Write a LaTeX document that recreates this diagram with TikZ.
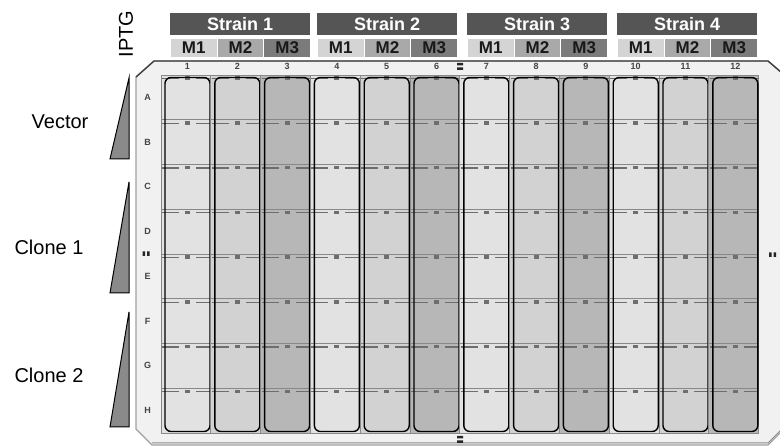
\documentclass[tikz,border=0pt]{standalone}
\usepackage{fontspec}
\setmainfont{Liberation Sans}
\definecolor{hdr}{HTML}{555555}
\definecolor{mone}{HTML}{D4D4D4}
\definecolor{mtwo}{HTML}{A9A9A9}
\definecolor{mthree}{HTML}{7B7B7B}
\definecolor{wellm1}{HTML}{E2E2E2}
\definecolor{wellm2}{HTML}{D2D2D2}
\definecolor{wellm3}{HTML}{B7B7B7}
\definecolor{welledge}{HTML}{888888}
\definecolor{plate}{HTML}{F1F1F1}
\definecolor{plateedge}{HTML}{A0A0A0}
\definecolor{markc}{HTML}{6E6E6E}
\definecolor{labc}{HTML}{444444}
\definecolor{trifill}{HTML}{8A8A8A}
\begin{document}
\begin{tikzpicture}[x=1pt,y=-1pt,
  strainhdr/.style={fill=hdr,text=white,font=\bfseries\fontsize{18}{18}\selectfont,
    minimum width=140pt,minimum height=22pt,inner sep=0pt,anchor=north west},
  mbox/.style={text=black!90,font=\bfseries\fontsize{17}{17}\selectfont,
    minimum width=47pt,minimum height=19pt,inner sep=0pt,anchor=north west,draw=white,line width=0.6pt},
  sidelab/.style={font=\fontsize{20}{20}\selectfont,inner sep=0pt},
  rowlab/.style={font=\bfseries\fontsize{9}{9}\selectfont,text=labc,inner sep=0pt},
  collab/.style={font=\bfseries\fontsize{9}{9}\selectfont,text=labc,inner sep=0pt},
  wedge/.style={fill=trifill,draw=black,line width=1pt,line join=miter},
  tinymark/.style={fill=black!85}
]
\useasboundingbox (0,0) rectangle (780,446);
% plate body
\path[fill=plate,draw=plateedge,line width=1.2pt]
  (136,77) -- (154,61) -- (768,61) -- (782,73) -- (782,431) -- (768,445) -- (152,445) -- (136,429) -- cycle;
\draw[black!75,line width=1.4pt] (136,77) -- (154,61) -- (768,61) -- (782,73);
\draw[black!45,line width=1pt] (152,443) -- (768,443) -- (782,429);
% wells
\foreach \c in {1,...,12}{
  \pgfmathsetmacro\L{165+(\c-1)*49.8}
  \pgfmathtruncatemacro\m{mod(\c-1,3)+1}
  \foreach \r in {1,...,8}{
    \pgfmathsetmacro\T{75+(\r-1)*44.75}
    \path[fill=wellm\m,draw=welledge,line width=0.9pt] (\L-4,\T) rectangle (\L+46,\T+44.75);
    \draw[markc,line width=1.4pt] (\L-3,\T+3.5) -- (\L+14,\T+3.5) (\L+31,\T+3.5) -- (\L+46,\T+3.5);
    \fill[markc] (\L+20,\T+1.5) rectangle (\L+25,\T+5);
  }
  \draw[black,line width=1.4pt,rounded corners=6pt] (\L,77.5) rectangle (\L+45,431.5);
  \node[collab] (n\c) at (\L+22.5,66.5) {\c};
}
% row letters
\foreach \l [count=\r] in {A,B,C,D,E,F,G,H}{
  \node[rowlab] (r\l) at (147.5,{97.4+(\r-1)*44.75}) {\l};
}
% tiny registration marks
\fill[tinymark] (457,63) rectangle (463,65.5) (457,67.5) rectangle (463,70);
\fill[tinymark] (457,436) rectangle (463,438.5) (457,440.5) rectangle (463,443);
\fill[tinymark] (142.5,251.5) rectangle (145,256) (147,251.5) rectangle (149.5,256);
\fill[tinymark] (769,252.5) rectangle (771.5,257) (773.5,252.5) rectangle (776,257);
% header
\foreach \s/\x in {1/170,2/317,3/467,4/617}{
  \node[strainhdr] (s\s) at (\x,13) {Strain \s};
  \node[mbox,fill=mone] (m\s a) at (\x,38) {M1};
  \node[mbox,fill=mtwo] (m\s b) at (\x+46.7,38) {M2};
  \node[mbox,fill=mthree] (m\s c) at (\x+93.4,38) {M3};
}
\node[font=\fontsize{20}{20}\selectfont,rotate=90,inner sep=0pt] (iptg) at (126,34) {IPTG};
% wedges
\path[wedge] (129,78) -- (129,159) -- (110,159) -- cycle;
\path[wedge] (129,182) -- (129,293) -- (110,293) -- cycle;
\path[wedge] (129,312) -- (129,427) -- (110,427) -- cycle;
% side labels
\node[sidelab] (vec) at (60,122) {Vector};
\node[sidelab] (cl1) at (49,247) {Clone 1};
\node[sidelab] (cl2) at (49,375) {Clone 2};
\end{tikzpicture}
\end{document}
